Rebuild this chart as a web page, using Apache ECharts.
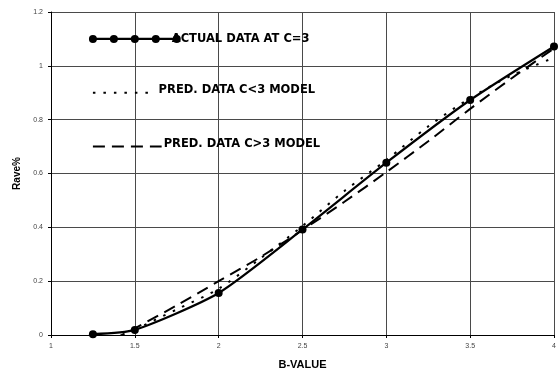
<!DOCTYPE html>
<html>
<head>
<meta charset="utf-8">
<script src="https://cdn.jsdelivr.net/npm/echarts@6/dist/echarts.min.js"></script>
<style>
  html, body { margin: 0; padding: 0; background: #fff; }
  #chart { width: 558px; height: 371px; }
</style>
</head>
<body>
<div id="chart"></div>
<script>
// Measured Rave% at C=3
const actualB = [1.25, 1.5, 2, 2.5, 3, 3.5, 4];
const actualRave = [0.003, 0.019, 0.156, 0.392, 0.64, 0.873, 1.072];

// Model predictions
const lowModelB = [1.5, 1.75, 2, 2.25, 2.5, 2.75, 3, 3.25, 3.5, 3.75, 4];
const lowModelRave = [0.02, 0.095, 0.172, 0.285, 0.405, 0.535, 0.65, 0.775, 0.88, 0.965, 1.03];
const highModelB = [1.375, 1.5, 1.75, 2, 2.25, 2.5, 2.75, 3, 3.25, 3.5, 3.75, 4];
const highModelRave = [-0.015, 0.025, 0.11, 0.2, 0.29, 0.39, 0.495, 0.605, 0.72, 0.84, 0.955, 1.065];

// In-plot key: sample lines drawn at fixed Rave% levels
const keyNames = ['ACTUAL DATA AT C=3', 'PRED. DATA C<3 MODEL', 'PRED. DATA C>3 MODEL'];
const keyLevels = [1.1, 0.9, 0.7];
const keyActualB = [1.25, 1.375, 1.5, 1.625, 1.75];
const keyLowB = [1.25, 1.6];
const keyHighB = [1.25, 1.66];

// Axis ranges
const bRange = [1, 4, 0.5];
const raveRange = [0, 1.2, 0.2];

const pairs = (xs, ys) => xs.map((x, i) => [x, ys[i]]);
const keyRow = (xs, level, name, labelOpts) => xs.map((x, i) => {
  if (i < xs.length - 1) return [x, level];
  return {
    value: [x, level],
    label: Object.assign({
      show: true,
      formatter: name,
      position: 'right',
      color: '#000',
      fontFamily: 'DejaVu Sans, Arial, sans-serif',
      fontWeight: 'bold',
      fontSize: 11.5
    }, labelOpts)
  };
});

const dotted = { color: '#000', width: 2, type: [2.5, 8], cap: 'butt' };
const dashed = { color: '#000', width: 2, type: [12, 7], cap: 'butt' };
const solid = { color: '#000', width: 2.2 };

const chart = echarts.init(document.getElementById('chart'), null, { renderer: 'canvas' });
chart.setOption({
  animation: false,
  backgroundColor: '#fff',
  grid: { left: 51, right: 4, top: 12, bottom: 36, containLabel: false, outerBoundsMode: 'none' },
  xAxis: {
    type: 'value',
    min: bRange[0], max: bRange[1], interval: bRange[2],
    name: 'B-VALUE',
    nameLocation: 'middle',
    nameGap: 24,
    nameTextStyle: { fontFamily: 'Liberation Sans, Arial, sans-serif', fontWeight: 'bold', fontSize: 11, color: '#000' },
    axisLine: { show: true, onZero: false, lineStyle: { color: '#000', width: 1 } },
    axisTick: { show: true, length: 3, lineStyle: { color: '#000' } },
    axisLabel: { fontFamily: 'Liberation Sans, Arial, sans-serif', fontSize: 7, color: '#444', margin: 8 },
    splitLine: { show: true, lineStyle: { color: '#4a4a4a', width: 1 } }
  },
  yAxis: {
    type: 'value',
    min: raveRange[0], max: raveRange[1], interval: raveRange[2],
    name: 'Rave%',
    nameLocation: 'middle',
    nameRotate: 90,
    nameGap: 22,
    nameTextStyle: { fontFamily: 'Liberation Sans, Arial, sans-serif', fontWeight: 'bold', fontSize: 10, color: '#000' },
    axisLine: { show: true, onZero: false, lineStyle: { color: '#000', width: 1 } },
    axisTick: { show: true, length: 3, lineStyle: { color: '#000' } },
    axisLabel: { fontFamily: 'Liberation Sans, Arial, sans-serif', fontSize: 7, color: '#444', margin: 8 },
    splitLine: { show: true, lineStyle: { color: '#4a4a4a', width: 1 } }
  },
  series: [
    {
      name: keyNames[1], type: 'line', silent: true, smooth: 0.3,
      symbol: 'none', lineStyle: dotted,
      data: pairs(lowModelB, lowModelRave), z: 3
    },
    {
      name: keyNames[2], type: 'line', silent: true, smooth: 0.3,
      symbol: 'none', lineStyle: dashed,
      data: pairs(highModelB, highModelRave), z: 3
    },
    {
      name: keyNames[0], type: 'line', silent: true, smooth: 0.22,
      symbol: 'circle', symbolSize: 8,
      itemStyle: { color: '#000' }, lineStyle: solid,
      data: pairs(actualB, actualRave), z: 4
    },
    // key rows
    {
      type: 'line', silent: true, symbol: 'circle', symbolSize: 8,
      itemStyle: { color: '#000' }, lineStyle: solid, z: 5,
      data: keyRow(keyActualB, keyLevels[0], keyNames[0], { distance: -9 })
    },
    {
      type: 'line', silent: true, symbol: 'circle', symbolSize: 0, showAllSymbol: true,
      itemStyle: { color: '#000' }, lineStyle: dotted, z: 5,
      data: keyRow(keyLowB, keyLevels[1], keyNames[1], { distance: 7, offset: [0, -3] })
    },
    {
      type: 'line', silent: true, symbol: 'circle', symbolSize: 0, showAllSymbol: true,
      itemStyle: { color: '#000' }, lineStyle: dashed, z: 5,
      data: keyRow(keyHighB, keyLevels[2], keyNames[2], { distance: 2, offset: [0, -3] })
    }
  ]
});
</script>
</body>
</html>
